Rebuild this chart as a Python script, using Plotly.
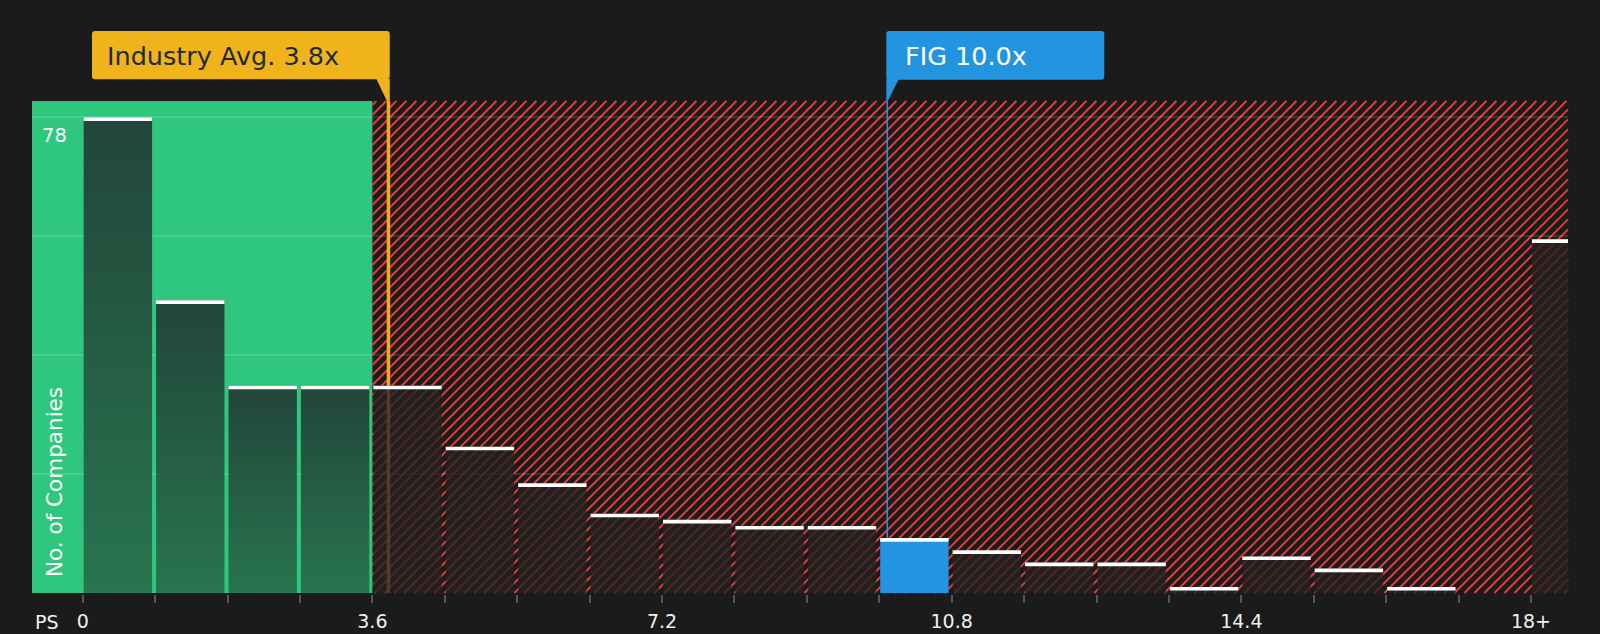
import plotly.graph_objects as go

# ---------------- data ----------------
bin_starts = [0.0, 0.9, 1.8, 2.7, 3.6, 4.5, 5.4, 6.3, 7.2, 8.1, 9.0, 9.9,
              10.8, 11.7, 12.6, 13.5, 14.4, 15.3, 16.2, 17.1, 18.0]
company_counts = [78, 48, 34, 34, 34, 24, 18, 13, 12, 11, 11, 9,
                  7, 5, 5, 1, 6, 4, 1, 0, 58]
tick_values = [0.0, 3.6, 7.2, 10.8, 14.4, 18.0]
tick_labels = ["0", "3.6", "7.2", "10.8", "14.4", "18+"]
grid_values = [0, 19.5, 39, 58.5, 78]
industry_avg = 3.8
company_value = 10.0
company_name = "FIG"
fair_limit = 3.6
x_axis_label = "PS"
y_axis_label = "No. of Companies"

# ---------------- geometry / style ----------------
W, H = 1600, 634
ML, MR, MT, MB = 32, 32, 101, 41
X0PX, PXU = 82.7, 80.46          # pixel of x=0, pixels per unit
XMIN = (ML - X0PX) / PXU
XMAX = (W - MR - X0PX) / PXU
YMAX = 80.67
BIN_W = 0.9
BAR_OFF, BAR_W = 0.012, 0.85
CAP_H = 0.6
FONT = "DejaVu Sans"
BG = "#1b1b1b"
GREEN = "#2ec77d"
RED = "#e03c3c"
BLUE = "#2394e0"
GOLD = "#f0b31c"
ORANGE = "#f5a623"

PW, PH = W - ML - MR, H - MT - MB


def px(pxv):
    return (pxv - ML) / PW


def py(pyv):
    return (H - MB - pyv) / PH


def xpix(v):
    return X0PX + v * PXU


fig = go.Figure()

# reference lines (below bars)
fig.add_trace(go.Scatter(x=[industry_avg, industry_avg], y=[0, YMAX], mode="lines",
                         line=dict(color=ORANGE, width=3.5), hoverinfo="skip",
                         showlegend=False, zorder=0))
fig.add_trace(go.Scatter(x=[company_value, company_value], y=[0, YMAX], mode="lines",
                         line=dict(color=BLUE, width=1.5), hoverinfo="skip",
                         showlegend=False, zorder=0))

# bars inside the green zone: gradient-filled polygons
red_x, red_y = [], []
blue_x, blue_y = [], []
for s, v in zip(bin_starts, company_counts):
    if s + BIN_W <= fair_limit + 1e-9:
        x0, x1 = s + BAR_OFF, s + BAR_OFF + BAR_W
        fig.add_trace(go.Scatter(
            x=[x0, x0, x1, x1, x0], y=[0, v, v, 0, 0], mode="lines", fill="toself",
            line=dict(width=0, color="rgba(0,0,0,0)"),
            fillgradient=dict(type="vertical", start=0, stop=v,
                              colorscale=[[0, "#28754f"], [1, "#22453a"]]),
            hoverinfo="skip", showlegend=False, zorder=1))
    elif s <= company_value < s + BIN_W:
        blue_x.append(s)
        blue_y.append(v)
    else:
        red_x.append(s)
        red_y.append(v)

fig.add_trace(go.Bar(x=red_x, y=red_y, offset=BAR_OFF, width=BAR_W,
                     marker=dict(color="rgba(36,32,32,0.78)", line=dict(width=0)),
                     hoverinfo="skip", showlegend=False, zorder=1))
fig.add_trace(go.Bar(x=blue_x, y=blue_y, offset=BAR_OFF, width=BAR_W,
                     marker=dict(color=BLUE, line=dict(width=0)),
                     hoverinfo="skip", showlegend=False, zorder=1))

# white caps
cap_x = [s for s, v in zip(bin_starts, company_counts) if v > 0]
cap_base = [v - CAP_H for v in company_counts if v > 0]
fig.add_trace(go.Bar(x=cap_x, y=[CAP_H] * len(cap_x), base=cap_base,
                     offset=BAR_OFF, width=BAR_W,
                     marker=dict(color="#ffffff", line=dict(width=0)),
                     hoverinfo="skip", showlegend=False, zorder=2))

shapes = []
# green zone
shapes.append(dict(type="rect", xref="x", yref="paper", x0=XMIN, x1=fair_limit,
                   y0=0, y1=1, fillcolor=GREEN, line=dict(width=0), layer="below"))
# red hatch zone (drawn as diagonal strokes clipped to the zone)
xa, xb, ya, yb = xpix(fair_limit), W - MR, MT, H - MB
segs = []
c = xa + ya - 6
step = 10.0
while c < xb + yb:
    lo = max(xa, c - yb)
    hi = min(xb, c - ya)
    if hi > lo:
        segs.append("M %.5f,%.5f L %.5f,%.5f" % (px(lo), py(c - lo), px(hi), py(c - hi)))
    c += step
shapes.append(dict(type="path", xref="paper", yref="paper", path=" ".join(segs),
                   line=dict(color=RED, width=2), layer="below"))


def box_path(x0, y0, x1, y1, r=3):
    pts = [
        ("M", x0 + r, y0), ("L", x1 - r, y0), ("Q", x1, y0, x1, y0 + r),
        ("L", x1, y1 - r), ("Q", x1, y1, x1 - r, y1), ("L", x0 + r, y1),
        ("Q", x0, y1, x0, y1 - r), ("L", x0, y0 + r), ("Q", x0, y0, x0 + r, y0),
    ]
    out = []
    for p in pts:
        if p[0] == "Q":
            out.append("Q %.5f,%.5f %.5f,%.5f" % (px(p[1]), py(p[2]), px(p[3]), py(p[4])))
        else:
            out.append("%s %.5f,%.5f" % (p[0], px(p[1]), py(p[2])))
    return " ".join(out) + " Z"


def poly_path(points):
    return "M " + " L ".join("%.5f,%.5f" % (px(a), py(b)) for a, b in points) + " Z"


ia = xpix(industry_avg)
cv = xpix(company_value)
shapes.append(dict(type="path", xref="paper", yref="paper",
                   path=box_path(92, 31, ia + 1.3, 79.3), fillcolor=GOLD,
                   line=dict(width=0), layer="above"))
shapes.append(dict(type="path", xref="paper", yref="paper",
                   path=poly_path([(ia - 12, 79), (ia + 1.3, 79), (ia + 1.3, 101), (ia - 1.5, 101)]),
                   fillcolor=GOLD, line=dict(width=0), layer="above"))
shapes.append(dict(type="path", xref="paper", yref="paper",
                   path=box_path(cv - 1, 31, cv + 217, 79.7), fillcolor=BLUE,
                   line=dict(width=0), layer="above"))
shapes.append(dict(type="path", xref="paper", yref="paper",
                   path=poly_path([(cv - 1, 79), (cv + 11.5, 79), (cv + 0.5, 101), (cv - 1, 101)]),
                   fillcolor=BLUE, line=dict(width=0), layer="above"))

annotations = [
    dict(xref="paper", yref="paper", x=px(105), y=py(56), xanchor="left", yanchor="middle",
         text=f"Industry Avg. {industry_avg:.1f}x", showarrow=False,
         font=dict(family=FONT, size=25.5, color="#1e2a36")),
    dict(xref="paper", yref="paper", x=px(cv + 16), y=py(56), xanchor="left", yanchor="middle",
         text=f"{company_name} {company_value:.1f}x", showarrow=False,
         font=dict(family=FONT, size=25.5, color="#ffffff")),
    dict(xref="paper", yref="y", x=px(54.5), y=max(company_counts), xanchor="center",
         yanchor="top", yshift=-5, text=str(max(company_counts)), showarrow=False,
         font=dict(family=FONT, size=19.5, color="#ffffff")),
    dict(xref="paper", yref="paper", x=px(54), y=py(482), xanchor="center", yanchor="middle",
         textangle=-90, text=y_axis_label, showarrow=False,
         font=dict(family=FONT, size=21.5, color="#ffffff")),
    dict(xref="paper", yref="paper", x=px(47), y=py(622), xanchor="center", yanchor="middle",
         text=x_axis_label, showarrow=False,
         font=dict(family=FONT, size=19, color="#f0f0f0")),
]

tick_text = []
for s in bin_starts:
    lab = ""
    for tv, tl in zip(tick_values, tick_labels):
        if abs(tv - s) < 1e-9:
            lab = tl
    tick_text.append(lab)

fig.update_layout(
    width=W, height=H,
    margin=dict(l=ML, r=MR, t=MT, b=MB, pad=0, autoexpand=False),
    paper_bgcolor=BG, plot_bgcolor=BG,
    barmode="overlay", hovermode=False, showlegend=False,
    shapes=shapes, annotations=annotations,
    font=dict(family=FONT, color="#f0f0f0"),
    xaxis=dict(range=[XMIN, XMAX], tickmode="array", tickvals=bin_starts, ticktext=tick_text,
               ticks="outside", ticklen=8, tickwidth=2, tickcolor="#555555",
               showgrid=False, zeroline=False, showline=True, linecolor="#474747", linewidth=2,
               tickfont=dict(family=FONT, size=19, color="#f0f0f0"), ticklabelstandoff=2,
               automargin=False, fixedrange=True),
    yaxis=dict(range=[0, YMAX], tickmode="array", tickvals=grid_values, showticklabels=False,
               showgrid=True, gridcolor="rgba(255,255,255,0.12)", gridwidth=1.5,
               zeroline=False, showline=False, ticks="", automargin=False, fixedrange=True),
)

fig.write_html("out.html", config={"displayModeBar": False},
               post_script="document.body.style.margin='0';document.body.style.background='#1b1b1b';")
